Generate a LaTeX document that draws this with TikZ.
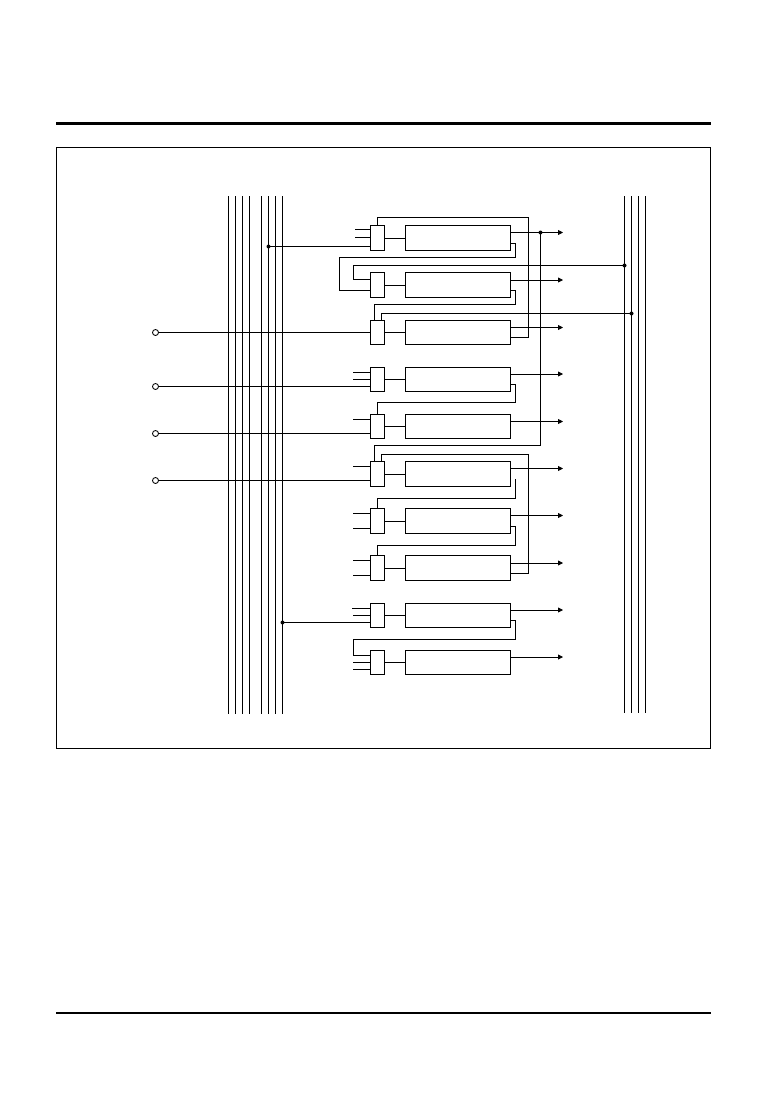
\documentclass[tikz,border=0pt]{standalone}
\usetikzlibrary{arrows.meta}
\tikzset{
  wire/.style={line width=0.85pt,line join=miter},
  outwire/.style={wire,-{Triangle[length=5pt,width=5pt]}},
  muxbox/.style={draw,line width=0.85pt,minimum width=14pt,inner sep=0pt,outer sep=0pt},
  blockbox/.style={draw,line width=0.85pt,minimum width=105pt,inner sep=0pt,outer sep=0pt},
  dot/.style={circle,fill=black,inner sep=0pt,minimum size=4pt},
  pin/.style={circle,draw,line width=0.85pt,fill=white,inner sep=0pt,minimum size=6pt},
  busline/.style={line width=0.85pt},
  rule/.style={line width=2.8pt},
  frame/.style={draw,line width=0.85pt,inner sep=0pt,outer sep=0pt}
}
\newcommand{\unitrow}[4]{% id, top, bottom, output y
  \pgfmathsetmacro{\rowmid}{(#2+#3)/2}
  \pgfmathsetmacro{\rowh}{#3-#2}
  \node[muxbox,minimum height=\rowh pt] (m#1) at (377.5,\rowmid) {};
  \node[blockbox,minimum height=\rowh pt] (b#1) at (458,\rowmid) {};
  \coordinate (o#1) at (563,#4);
  \draw[wire] (m#1.east) -- (b#1.west);
  \draw[outwire] (b#1.east |- o#1) -- (o#1);
}
\begin{document}
\begin{tikzpicture}[x=1pt,y=-1pt]
\useasboundingbox (0,0) rectangle (774,1093);
% page rules and frame
\coordinate (rtl) at (56,123.5); \coordinate (rtr) at (711,123.5);
\coordinate (rbl) at (56,1013); \coordinate (rbr) at (711,1013);
\draw[rule] (rtl) -- (rtr);
\draw[rule] (rbl) -- (rbr);
\draw[frame] (56.5,147.5) rectangle (710.5,748.5);
% buses
\foreach \n/\x in {1/228.5,2/235.5,3/242.5,4/249.5,5/261.5,6/268.5,7/275.5,8/282.5}{
  \coordinate (lt\n) at (\x,196); \coordinate (lb\n) at (\x,714);
  \draw[busline] (lt\n) -- (lb\n);
}
\foreach \n/\x in {1/624.5,2/631.5,3/638.5,4/645.5}{
  \coordinate (rt\n) at (\x,196); \coordinate (rb\n) at (\x,713);
  \draw[busline] (rt\n) -- (rb\n);
}
% units
\unitrow{1}{225.5}{250.5}{232.5}
\unitrow{2}{272.5}{297.5}{280}
\unitrow{3}{320.5}{344.5}{327.5}
\unitrow{4}{367.5}{391.5}{374}
\unitrow{5}{414.5}{438.5}{421.5}
\unitrow{6}{461.5}{486.5}{468.5}
\unitrow{7}{508.5}{533.5}{515.5}
\unitrow{8}{555.5}{580.5}{563}
\unitrow{9}{603.5}{627.5}{610}
\unitrow{10}{650.5}{674.5}{657}
% dots and pins
\node[dot] (d1) at (268.5,246.5) {};
\node[dot] (d2) at (540.5,232.5) {};
\node[dot] (d3) at (624.5,265.5) {};
\node[dot] (d4) at (631.5,313.5) {};
\node[dot] (d5) at (282.5,622.5) {};
\node[pin] (p1) at (155.5,332.5) {};
\node[pin] (p2) at (155.5,386.5) {};
\node[pin] (p3) at (155.5,433.5) {};
\node[pin] (p4) at (155.5,480.5) {};
% bus and pin inputs
\draw[wire] (d1.center) -- (d1 -| m1.west);
\draw[wire] (d5.center) -- (d5 -| m9.west);
\draw[wire] (p1) -- (p1 -| m3.west);
\draw[wire] (p2) -- (p2 -| m4.west);
\draw[wire] (p3) -- (p3 -| m5.west);
\draw[wire] (p4) -- (p4 -| m6.west);
% stub inputs
\foreach \m/\y/\x in {1/229.5/355,1/237.5/355,
  4/372.5/353,4/379.5/353,5/419.5/353,6/466.5/353,
  7/513.5/353,7/528.5/353,8/560.5/353,8/575.5/353,
  9/608.5/352,9/615.5/353,10/662.5/353,10/669.5/353}{
  \coordinate (s) at (\x,\y);
  \draw[wire] (s) -- (s -| m\m.west);
}
% feedback wires
\draw[wire] (m1.north) -- (377.5,217.5) -- (528.5,217.5) -- (528.5,337.5) -- (b3.east |- 0,337.5);
\draw[wire] (b1.east |- 0,243.5) -- (515.5,243.5) -- (515.5,257.5) -- (339.5,257.5) -- (339.5,290.5) -- (m2.west |- 0,290.5);
\draw[wire] (d3.center) -- (353.5,265.5) -- (353.5,279.5) -- (m2.west |- 0,279.5);
\draw[wire] (b2.east |- 0,290.5) -- (515.5,290.5) -- (515.5,304.5) -- (374.5,304.5) -- (374.5,320.5);
\draw[wire] (d4.center) -- (381.5,313.5) -- (381.5,320.5);
\draw[wire] (d2.center) -- (540.5,445.5) -- (374.5,445.5) -- (374.5,461.5);
\draw[wire] (b4.east |- 0,384.5) -- (515.5,384.5) -- (515.5,402.5) -- (377.5,402.5) -- (m5.north);
\draw[wire] (381.5,461.5) -- (381.5,454.5) -- (528.5,454.5) -- (528.5,573.5) -- (b8.east |- 0,573.5);
\draw[wire] (515.5,479) -- (515.5,498.5) -- (377.5,498.5) -- (m7.north);
\draw[wire] (b7.east |- 0,526.5) -- (515.5,526.5) -- (515.5,545.5) -- (377.5,545.5) -- (m8.north);
\draw[wire] (b9.east |- 0,620.5) -- (515.5,620.5) -- (515.5,639.5) -- (353.5,639.5) -- (353.5,655.5) -- (m10.west |- 0,655.5);
\end{tikzpicture}
\end{document}
